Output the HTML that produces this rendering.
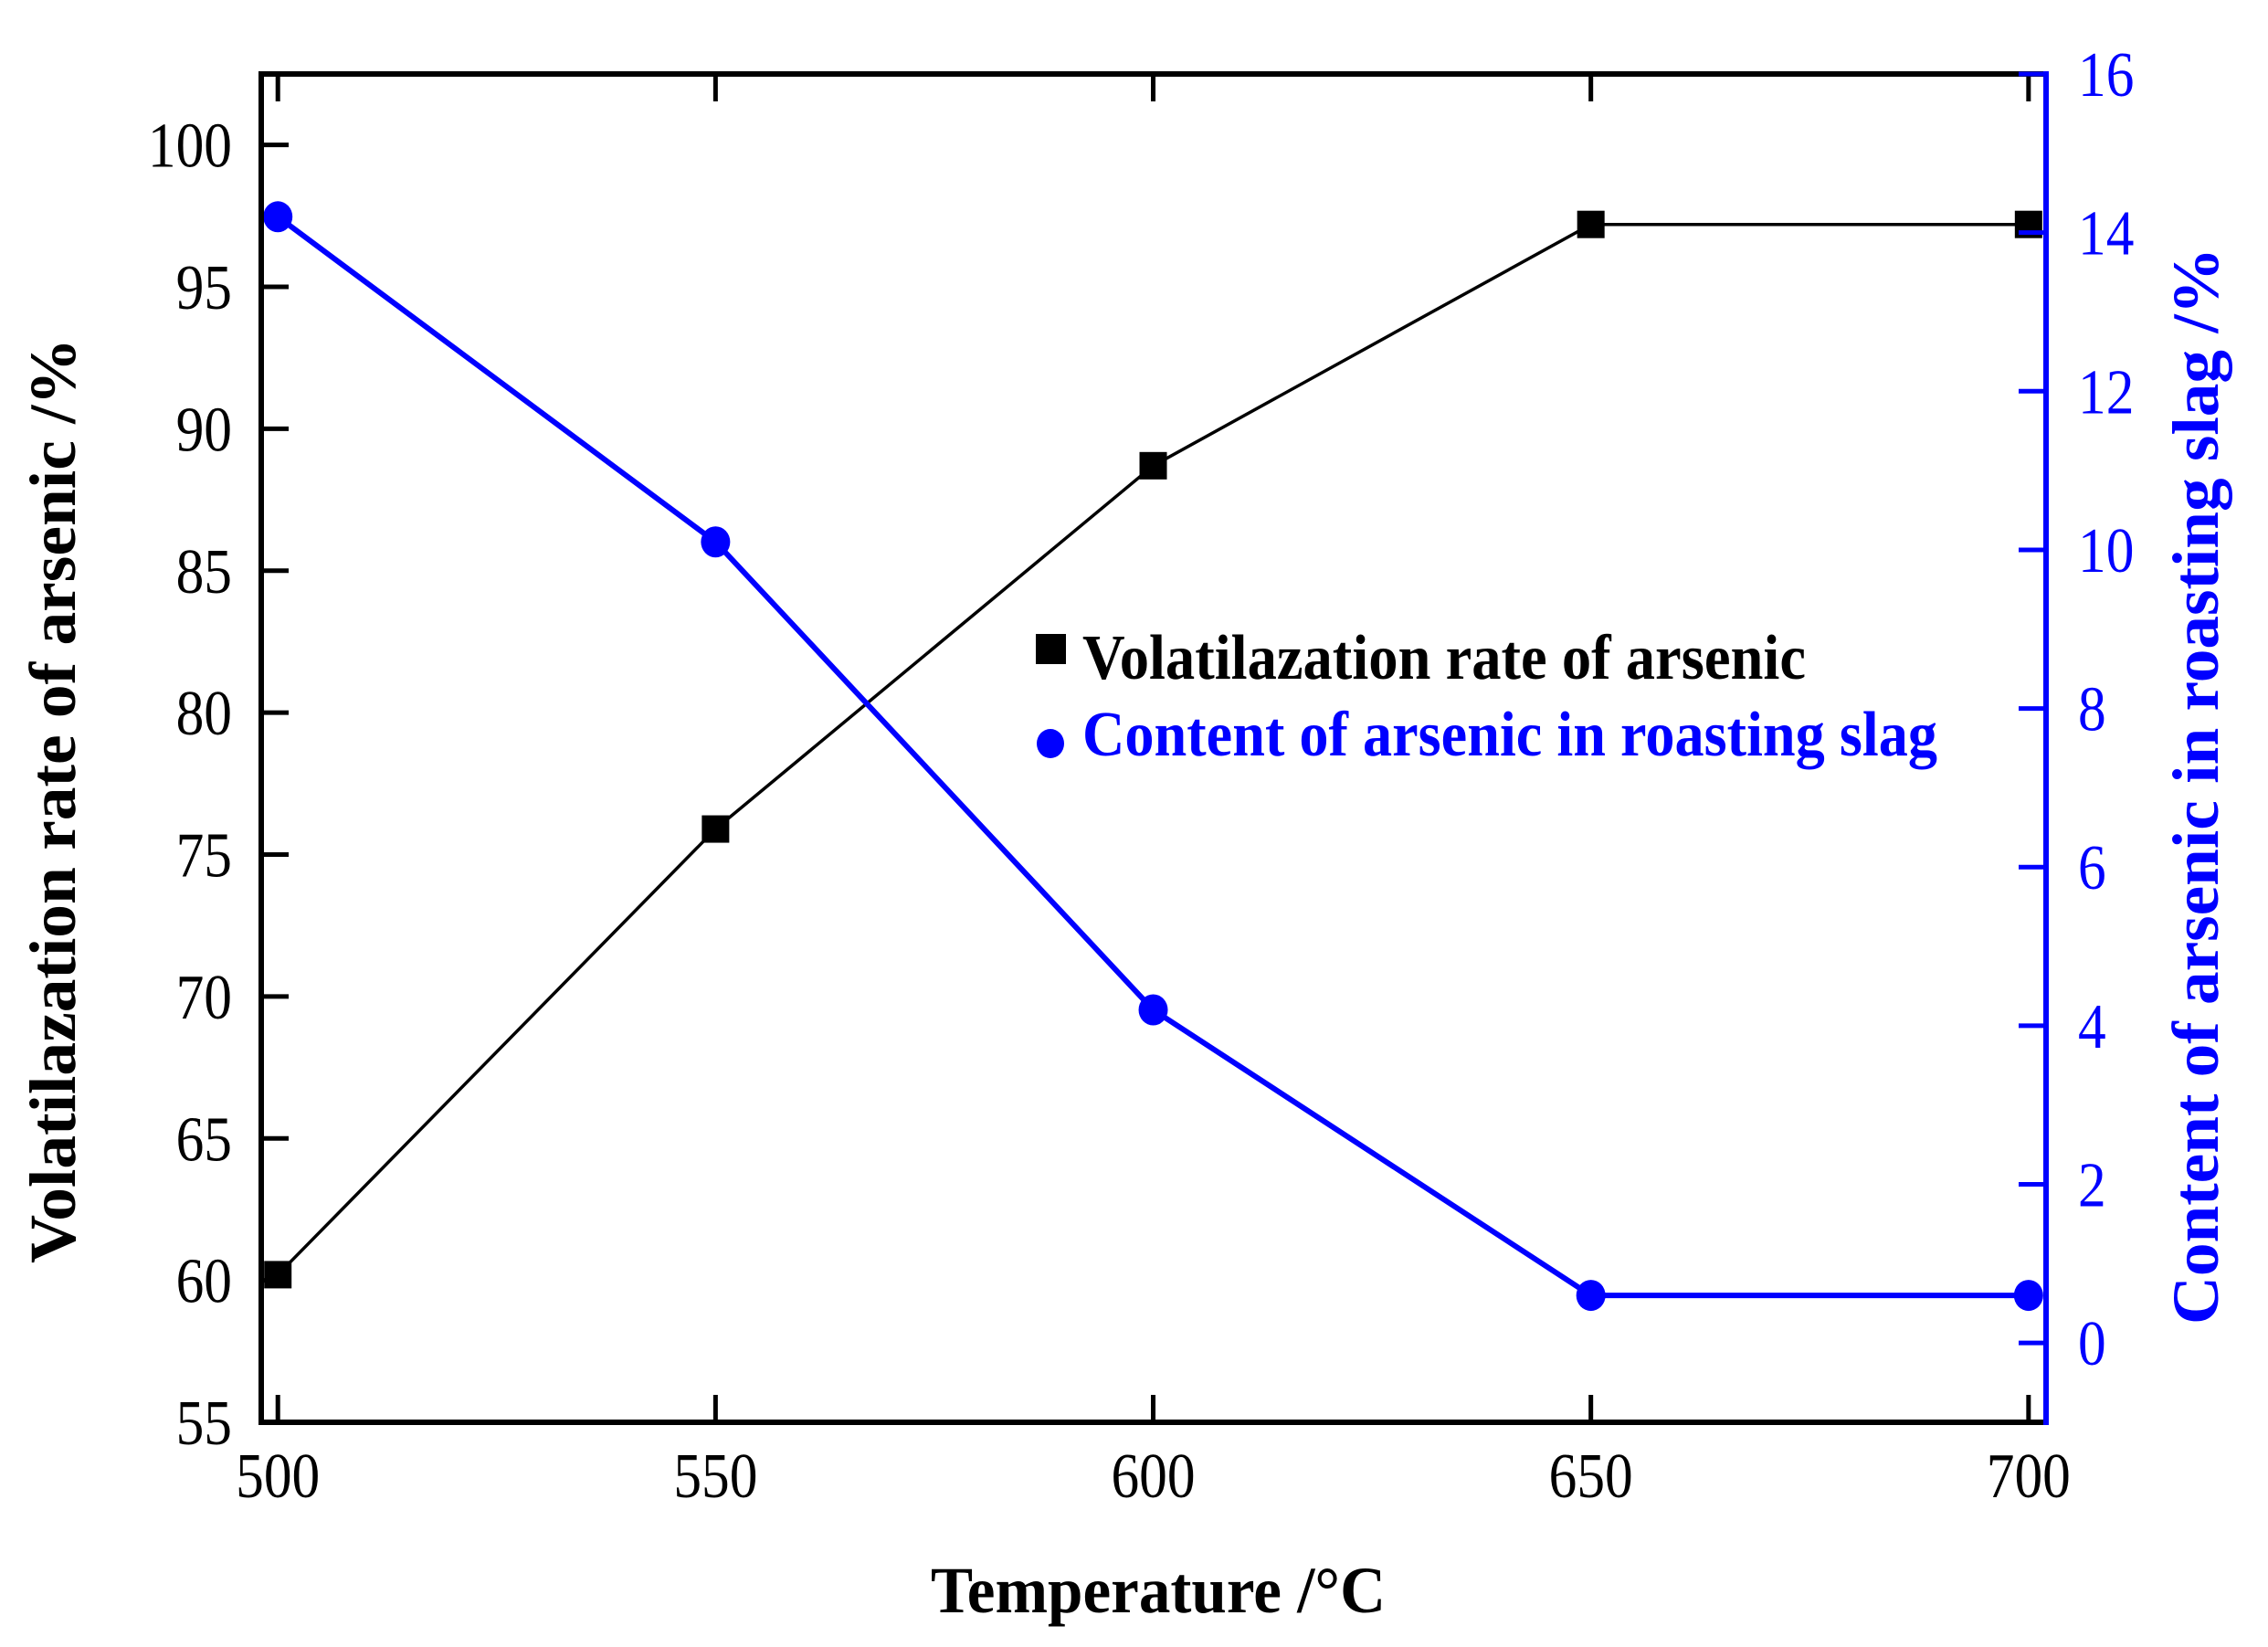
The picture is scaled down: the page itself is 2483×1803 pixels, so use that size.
<!DOCTYPE html>
<html><head><meta charset="utf-8">
<style>
html,body{margin:0;padding:0;background:#fff;}
svg{display:block;}
text{font-family:"Liberation Serif","Times New Roman",serif;}
</style></head>
<body>
<svg id="chart" width="2483" height="1803" viewBox="0 0 2483 1803" xmlns="http://www.w3.org/2000/svg">
<rect x="0" y="0" width="2483" height="1803" fill="#fff"/>
<g id="marks"></g>
<g id="axes"></g>
<text x="1019" y="1765" font-size="72" font-weight="bold" textLength="498" lengthAdjust="spacingAndGlyphs">Temperature /°C</text>
<text transform="translate(82,1383) rotate(-90)" x="0" y="0" font-size="72" font-weight="bold" textLength="1013" lengthAdjust="spacingAndGlyphs">Volatilazation rate of arsenic /%</text>
<text transform="translate(2428,1450) rotate(-90)" x="0" y="0" font-size="72" font-weight="bold" fill="#0000ff" textLength="1179" lengthAdjust="spacingAndGlyphs">Content of arsenic in roasting slag /%</text>
<g>
  <rect x="1134" y="694" width="33" height="33" fill="#000"/>
  <text x="1185" y="743" font-size="70" font-weight="bold" textLength="792" lengthAdjust="spacingAndGlyphs">Volatilazation rate of arsenic</text>
  <ellipse cx="1150" cy="814" rx="15" ry="16" fill="#0000ff"/>
  <text x="1185" y="827" font-size="70" font-weight="bold" fill="#0000ff" textLength="936" lengthAdjust="spacingAndGlyphs">Content of arsenic in roasting slag</text>
</g>
</svg>
<script>
const temps = [500, 550, 600, 650, 700];
const volatilization = [60.2, 75.9, 88.7, 97.2, 97.2];
const slagContent = [14.2, 10.1, 4.2, 0.6, 0.6];
const xTicks = [500, 550, 600, 650, 700];
const leftTicks = [55, 60, 65, 70, 75, 80, 85, 90, 95, 100];
const rightTicks = [0, 2, 4, 6, 8, 10, 12, 14, 16];

const L = 286, R = 2240, T = 81, B = 1557;
const xMin = 498.1, xMax = 702.0;
const lMin = 55, lMax = 102.5;
const rMin = -1, rMax = 16;
const NS = 'http://www.w3.org/2000/svg';
function xs(v){ return L + (v - xMin) / (xMax - xMin) * (R - L); }
function yl(v){ return B - (v - lMin) / (lMax - lMin) * (B - T); }
function yr(v){ return B - (v - rMin) / (rMax - rMin) * (B - T); }
function mk(tag, attrs, parent){
  const e = document.createElementNS(NS, tag);
  for (const k in attrs) e.setAttribute(k, attrs[k]);
  parent.appendChild(e);
  return e;
}
function tl(v){ return String(v).length * 30.7; }
const marks = document.getElementById('marks');
const axes = document.getElementById('axes');

let d1 = temps.map((t,i)=>(i?'L':'M')+xs(t)+','+yl(volatilization[i])).join(' ');
const p1 = mk('path', {d:d1, fill:'none', stroke:'#000', 'stroke-width':3.5}, marks);


let d2 = temps.map((t,i)=>(i?'L':'M')+xs(t)+','+yr(slagContent[i])).join(' ');
const p2 = mk('path', {d:d2, fill:'none', stroke:'#0000ff', 'stroke-width':6}, marks);


temps.forEach((t,i)=>{
  const s = mk('rect', {x:xs(t)-15, y:yl(volatilization[i])-15, width:30, height:30, fill:'#000'}, marks);
  
  
  const c = mk('ellipse', {cx:xs(t), cy:yr(slagContent[i]), rx:16, ry:17, fill:'#0000ff'}, marks);
  
  
});

const fr = mk('path', {d:`M${R},${T} L${L},${T} L${L},${B} L${R},${B}`, fill:'none', stroke:'#000', 'stroke-width':6}, axes);


const ra = mk('line', {x1:R, y1:T-3, x2:R, y2:B+3, stroke:'#0000ff', 'stroke-width':6}, axes);



xTicks.forEach(v=>{
  const x = xs(v);
  const t1 = mk('line', {x1:x, y1:B, x2:x, y2:B-30, stroke:'#000', 'stroke-width':5}, axes);
  
  
  const t2 = mk('line', {x1:x, y1:T, x2:x, y2:T+30, stroke:'#000', 'stroke-width':5}, axes);
  
  
  const lb = mk('text', {x:x, y:1639, 'font-size':70, 'text-anchor':'middle', textLength:tl(v), lengthAdjust:'spacingAndGlyphs'}, axes);
  
  
  lb.textContent = v;
});
leftTicks.forEach(v=>{
  const y = yl(v);
  const t = mk('line', {x1:L, y1:y, x2:L+30, y2:y, stroke:'#000', 'stroke-width':5}, axes);
  
  
  const lb = mk('text', {x:254 - tl(v), y:y+24, 'font-size':70, textLength:tl(v), lengthAdjust:'spacingAndGlyphs'}, axes);
  
  
  lb.textContent = v;
});
rightTicks.forEach(v=>{
  const y = yr(v);
  const t = mk('line', {x1:R, y1:y, x2:R-30, y2:y, stroke:'#0000ff', 'stroke-width':5}, axes);
  
  
  const lb = mk('text', {x:2275, y:y+24, 'font-size':70, fill:'#0000ff', textLength:tl(v), lengthAdjust:'spacingAndGlyphs'}, axes);
  
  
  lb.textContent = v;
});
</script>
</body></html>
